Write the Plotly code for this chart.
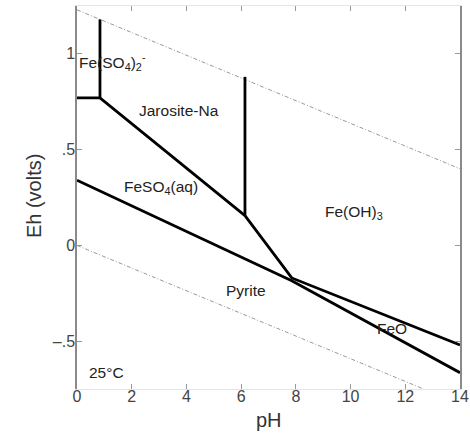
import plotly.graph_objects as go

# Water stability limits (dashed)
water_upper_ph = [0, 14]
water_upper_eh = [1.23, 0.40]
water_lower_ph = [0, 12.67]
water_lower_eh = [0.0, -0.75]

# Solid phase boundaries
b1_ph = [0.84, 0.84]; b1_eh = [1.18, 0.77]          # Fe(SO4)2- | Jarosite vertical
b2_ph = [0, 0.84, 6.14]; b2_eh = [0.77, 0.77, 0.155]  # horizontal + diagonal
b3_ph = [6.14, 6.14]; b3_eh = [0.155, 0.88]          # Jarosite | Fe(OH)3 vertical
b4_ph = [6.14, 7.85, 14]; b4_eh = [0.155, -0.17, -0.52]  # Fe(OH)3 lower boundary
b5_ph = [0, 7.85, 14]; b5_eh = [0.34, -0.185, -0.665]    # Pyrite upper boundary

# Region labels
lab_text = ["Fe(SO<sub>4</sub>)<sub>2</sub><sup>-</sup>", "Jarosite-Na", "FeSO<sub>4</sub>(aq)",
            "Fe(OH)<sub>3</sub>", "Pyrite", "FeO", "25°C"]
lab_ph = [1.28, 3.73, 3.07, 10.12, 6.18, 11.53, 1.06]
lab_eh = [0.96, 0.704, 0.30, 0.17, -0.236, -0.434, -0.666]

x_ticks = [0, 2, 4, 6, 8, 10, 12, 14]
y_ticks = [-0.5, 0, 0.5, 1]
y_tick_text = ["\u2013.5", "0", ".5", "1"]

FONT = "Liberation Sans, Arial"

fig = go.Figure()
dash_style = dict(color="#999999", width=1, dash="4px,2px,1px,2px")
fig.add_trace(go.Scatter(x=water_upper_ph, y=water_upper_eh, mode="lines", line=dash_style))
fig.add_trace(go.Scatter(x=water_lower_ph, y=water_lower_eh, mode="lines", line=dash_style))
solid = dict(color="black", width=2.8)
for xs, ys in [(b1_ph, b1_eh), (b2_ph, b2_eh), (b3_ph, b3_eh), (b4_ph, b4_eh), (b5_ph, b5_eh)]:
    fig.add_trace(go.Scatter(x=xs, y=ys, mode="lines", line=solid))

for t, x, y in zip(lab_text, lab_ph, lab_eh):
    fig.add_annotation(x=x, y=y, text=t, showarrow=False,
                       font=dict(family=FONT, size=15.5, color="#222"))

fig.add_annotation(xref="paper", yref="paper", x=0.5, y=-0.081, text="pH", showarrow=False,
                   xanchor="center", yanchor="middle",
                   font=dict(family=FONT, size=20, color="#333"))
fig.add_annotation(xref="paper", yref="paper", x=-0.112, y=0.504, text="Eh (volts)", showarrow=False,
                   textangle=-90, xanchor="center", yanchor="middle",
                   font=dict(family=FONT, size=20, color="#333"))

fig.update_layout(
    width=470, height=433,
    margin=dict(l=77, r=10, t=6, b=44, autoexpand=False),
    paper_bgcolor="white", plot_bgcolor="white",
    showlegend=False,
    font=dict(family=FONT, size=16, color="#444"),
)
fig.update_xaxes(range=[0, 14], tickvals=x_ticks, ticks="inside", ticklen=5, tickcolor="#999",
                 showline=True, linecolor="#e4e4e4", linewidth=1, mirror="ticks",
                 showgrid=False, zeroline=False, automargin=False, ticklabelstandoff=-7,
                 tickfont=dict(size=16, color="#444"))
fig.update_yaxes(range=[-0.75, 1.25], tickvals=y_ticks, ticktext=y_tick_text, ticks="inside",
                 ticklen=5, tickcolor="#999", showline=True, linecolor="#8a8a8a", linewidth=1.5,
                 mirror="ticks", showgrid=False, zeroline=False, automargin=False,
                 ticklabelstandoff=-3, tickfont=dict(size=16, color="#444"))

fig.write_html("out.html")
